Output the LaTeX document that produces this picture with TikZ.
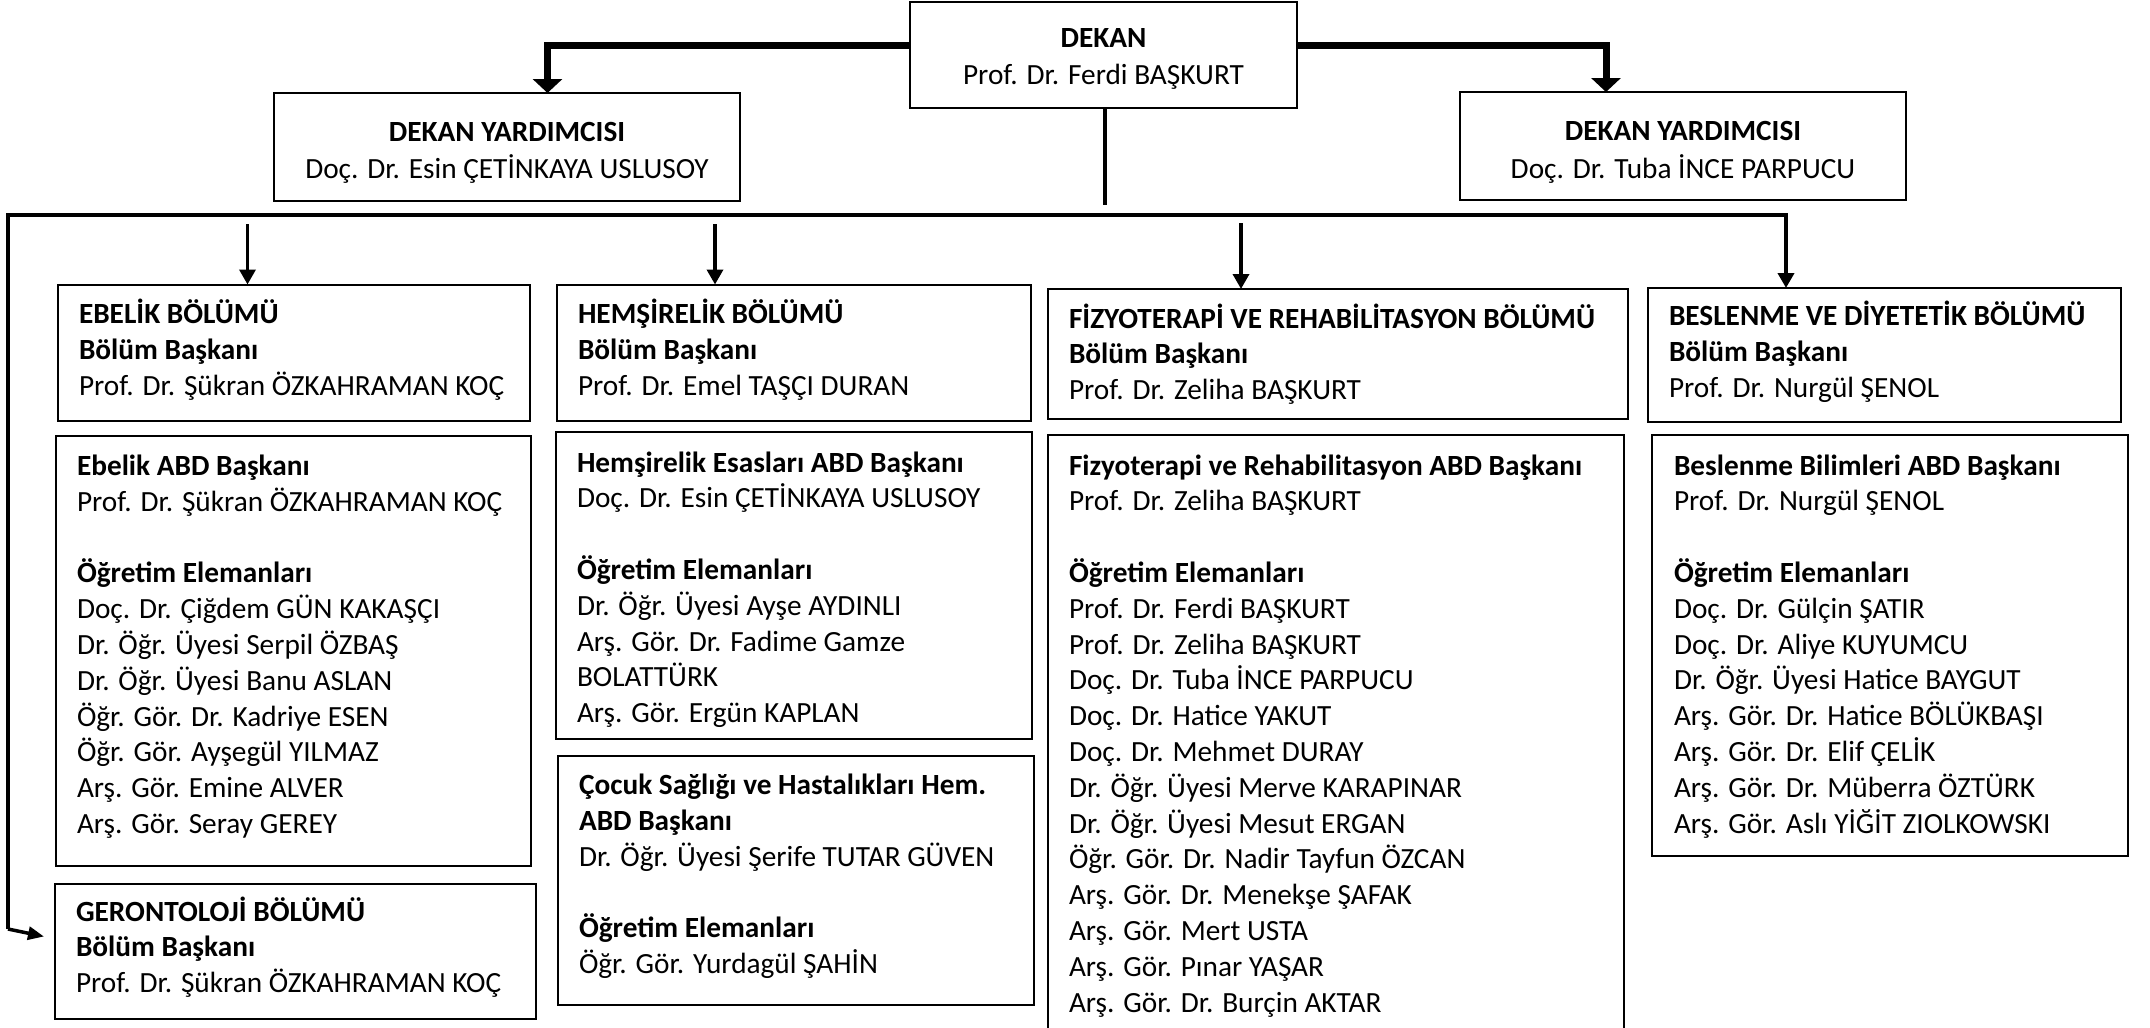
\documentclass[tikz,border=0pt]{standalone}
\usepackage{fontspec}
\setmainfont{Carlito}
\usetikzlibrary{arrows.meta}
\begin{document}
\begin{tikzpicture}[x=1pt,y=-1pt,
  box/.style={draw, line width=2pt, anchor=north west, inner sep=0pt, outer sep=0pt},
  topbox/.style={box, line width=2.5pt},
  txt/.style={anchor=north west, inner sep=0pt, outer sep=0pt, align=left, font=\fontsize{29.3}{35.8}\selectfont},
  ctxt/.style={anchor=north, inner sep=0pt, outer sep=0pt, align=center, font=\fontsize{29.3}{35.8}\selectfont},
  thickarrow/.style={line width=7pt, -{Triangle[width=29pt,length=14pt]}},
  thinarrow/.style={line width=3.5pt, -{Triangle[width=16pt,length=15pt]}},
  busline/.style={line width=4pt},
]
\fill[white] (0,0) rectangle (2150,1028);
\useasboundingbox (0,0) rectangle (2150,1028);

% ---------- top level ----------
\node[topbox, minimum width=387pt, minimum height=106pt] (dekan) at (910,2) {};
\node[ctxt] (dekan-t) at ([shift={(0,20.4)}]dekan.north) {\strut\textbf{DEKAN}\\[1.5pt]Prof. Dr. Ferdi BAŞKURT};

\node[topbox, minimum width=466pt, minimum height=108pt] (dy1) at (274,93) {};
\node[ctxt] (dy1-t) at ([shift={(0,23.4)}]dy1.north) {\strut\textbf{DEKAN YARDIMCISI}\\[1.5pt]Doç. Dr. Esin ÇETİNKAYA USLUSOY};

\node[topbox, minimum width=446pt, minimum height=108pt] (dy2) at (1460,92) {};
\node[ctxt] (dy2-t) at ([shift={(0,23.7)}]dy2.north) {\strut\textbf{DEKAN YARDIMCISI}\\[1.5pt]Doç. Dr. Tuba İNCE PARPUCU};

% ---------- Ebelik ----------
\node[box, minimum width=472pt, minimum height=136.5pt] (ebb) at (58,284.5) {};
\node[txt] (ebb-t) at ([shift={(21,14.4)}]ebb.north west) {\strut\textbf{EBELİK BÖLÜMÜ}\\\textbf{Bölüm Başkanı}\\Prof. Dr. Şükran ÖZKAHRAMAN KOÇ};

\node[box, minimum width=475pt, minimum height=430pt] (eba) at (56,436) {};
\node[txt] (eba-t) at ([shift={(21,14.4)}]eba.north west) {\strut\textbf{Ebelik ABD Başkanı}\\Prof. Dr. Şükran ÖZKAHRAMAN KOÇ\\[35.8pt]\textbf{Öğretim Elemanları}\\Doç. Dr. Çiğdem GÜN KAKAŞÇI\\Dr. Öğr. Üyesi Serpil ÖZBAŞ\\Dr. Öğr. Üyesi Banu ASLAN\\Öğr. Gör. Dr. Kadriye ESEN\\Öğr. Gör. Ayşegül YILMAZ\\Arş. Gör. Emine ALVER\\Arş. Gör. Seray GEREY};

\node[box, minimum width=481pt, minimum height=135pt] (ger) at (55,884) {};
\node[txt] (ger-t) at ([shift={(21,12)}]ger.north west) {\strut\textbf{GERONTOLOJİ BÖLÜMÜ}\\\textbf{Bölüm Başkanı}\\Prof. Dr. Şükran ÖZKAHRAMAN KOÇ};

% ---------- Hemşirelik ----------
\node[box, minimum width=474pt, minimum height=136.5pt] (hb) at (557,284.5) {};
\node[txt] (hb-t) at ([shift={(21,14.4)}]hb.north west) {\strut\textbf{HEMŞİRELİK BÖLÜMÜ}\\\textbf{Bölüm Başkanı}\\Prof. Dr. Emel TAŞÇI DURAN};

\node[box, minimum width=476pt, minimum height=306.5pt] (ha) at (556,432) {};
\node[txt] (ha-t) at ([shift={(21,15)}]ha.north west) {\strut\textbf{Hemşirelik Esasları ABD Başkanı}\\Doç. Dr. Esin ÇETİNKAYA USLUSOY\\[35.8pt]\textbf{Öğretim Elemanları}\\Dr. Öğr. Üyesi Ayşe AYDINLI\\Arş. Gör. Dr. Fadime Gamze\\BOLATTÜRK\\Arş. Gör. Ergün KAPLAN};

\node[box, minimum width=476pt, minimum height=248.5pt] (hc) at (558,756) {};
\node[txt] (hc-t) at ([shift={(21,13.5)}]hc.north west) {\strut\textbf{Çocuk Sağlığı ve Hastalıkları Hem.}\\\textbf{ABD Başkanı}\\Dr. Öğr. Üyesi Şerife TUTAR GÜVEN\\[35.8pt]\textbf{Öğretim Elemanları}\\Öğr. Gör. Yurdagül ŞAHİN};

% ---------- Fizyoterapi ----------
\node[box, minimum width=580pt, minimum height=130pt] (fb) at (1048,289) {};
\node[txt] (fb-t) at ([shift={(21,14)}]fb.north west) {\strut\textbf{FİZYOTERAPİ VE REHABİLİTASYON BÖLÜMÜ}\\\textbf{Bölüm Başkanı}\\Prof. Dr. Zeliha BAŞKURT};

\node[box, minimum width=576pt, minimum height=595pt] (fa) at (1048,435) {};
\node[txt] (fa-t) at ([shift={(21,15)}]fa.north west) {\strut\textbf{Fizyoterapi ve Rehabilitasyon ABD Başkanı}\\Prof. Dr. Zeliha BAŞKURT\\[35.8pt]\textbf{Öğretim Elemanları}\\Prof. Dr. Ferdi BAŞKURT\\Prof. Dr. Zeliha BAŞKURT\\Doç. Dr. Tuba İNCE PARPUCU\\Doç. Dr. Hatice YAKUT\\Doç. Dr. Mehmet DURAY\\Dr. Öğr. Üyesi Merve KARAPINAR\\Dr. Öğr. Üyesi Mesut ERGAN\\Öğr. Gör. Dr. Nadir Tayfun ÖZCAN\\Arş. Gör. Dr. Menekşe ŞAFAK\\Arş. Gör. Mert USTA\\Arş. Gör. Pınar YAŞAR\\Arş. Gör. Dr. Burçin AKTAR};

% ---------- Beslenme ----------
\node[box, minimum width=473pt, minimum height=133.6pt] (bb) at (1648,288) {};
\node[txt] (bb-t) at ([shift={(21,12.4)}]bb.north west) {\strut\textbf{BESLENME VE DİYETETİK BÖLÜMÜ}\\\textbf{Bölüm Başkanı}\\Prof. Dr. Nurgül ŞENOL};

\node[box, minimum width=476pt, minimum height=421pt] (ba) at (1652,435) {};
\node[txt] (ba-t) at ([shift={(22,15)}]ba.north west) {\strut\textbf{Beslenme Bilimleri ABD Başkanı}\\Prof. Dr. Nurgül ŞENOL\\[35.8pt]\textbf{Öğretim Elemanları}\\Doç. Dr. Gülçin ŞATIR\\Doç. Dr. Aliye KUYUMCU\\Dr. Öğr. Üyesi Hatice BAYGUT\\Arş. Gör. Dr. Hatice BÖLÜKBAŞI\\Arş. Gör. Dr. Elif ÇELİK\\Arş. Gör. Dr. Müberra ÖZTÜRK\\Arş. Gör. Aslı YİĞİT ZIOLKOWSKI};

% ---------- connectors ----------
\draw[thickarrow] ([shift={(0,-9.5)}]dekan.west) -| ([shift={(40.5,0)}]dy1.north);
\draw[thickarrow] ([shift={(0,-9.5)}]dekan.east) -| ([shift={(-77,0)}]dy2.north);

\coordinate (dekanend) at (1104.5,205);
\draw[busline] (dekan.south -| dekanend) -- (dekanend);

\coordinate (gc) at (8,929);
\coordinate (busL) at (8,215);
\coordinate (busR) at (1786,215);
\draw[busline, -{Triangle[width=16pt,length=15pt]}] (gc) -- (busL) -- (busR) -- (busR |- bb.north);
\draw[line width=3.5pt, -{Triangle[width=13pt,length=16pt]}] (gc) -- ([shift={(-11,-15)}]ger.west);

\coordinate (a1) at (247.5,224);
\coordinate (a2) at (715,224);
\coordinate (a3) at (1241,223);
\draw[thinarrow] (a1) -- (a1 |- ebb.north);
\draw[thinarrow] (a2) -- (a2 |- hb.north);
\draw[thinarrow] (a3) -- (a3 |- fb.north);
\end{tikzpicture}
\end{document}
